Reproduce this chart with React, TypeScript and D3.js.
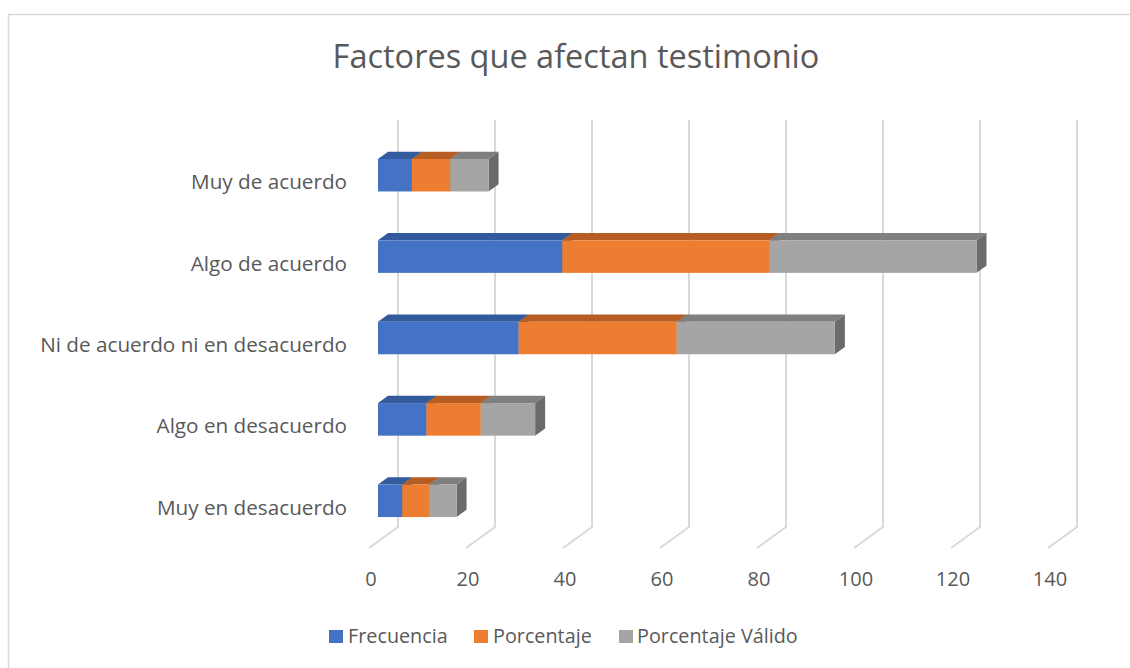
import React from "react";
import * as d3 from "d3";

const categories = [
  "Muy de acuerdo",
  "Algo de acuerdo",
  "Ni de acuerdo ni en desacuerdo",
  "Algo en desacuerdo",
  "Muy en desacuerdo",
];
const seriesNames = ["Frecuencia", "Porcentaje", "Porcentaje Válido"];
const frecuencia = [7, 38, 29, 10, 5];
const porcentaje = [7.9, 42.7, 32.6, 11.2, 5.6];
const porcentajeValido = [7.9, 42.7, 32.6, 11.2, 5.6];
const tickValues = [0, 20, 40, 60, 80, 100, 120, 140];

const frontColors = ["#4472C4", "#ED7D31", "#A5A5A5"];
const topColors = ["#335A9C", "#B55D22", "#7F7F7F"];
const sideColors = ["#2C4E88", "#A0521D", "#6B6B6B"];

const W = 1130;
const H = 668;
const FONT = "'Open Sans', Lato, sans-serif";
const TEXT = "#595959";

// 3D depth offsets
const DEPTH_DX = 29;
const DEPTH_DY = -21;
const BAR_FRONT = 0.31;
const BAR_BACK = 0.655;

export default function App() {
  const x = d3.scaleLinear().domain([0, 140]).range([369, 369 + 140 * 4.85]);
  const y = d3.scaleBand<string>().domain(categories).range([141, 548]).paddingInner(0.6).paddingOuter(0.3);
  const yc = d3.scaleBand<string>().domain(categories).range([141, 548]);
  const series = [frecuencia, porcentaje, porcentajeValido];
  const topY = 120;
  const bottomBack = 548 + DEPTH_DY;

  const bars: React.ReactNode[] = [];
  categories.forEach((c, i) => {
    let cum = 0;
    const y0f = (y(c) as number) + DEPTH_DY * BAR_FRONT;
    const y1f = y0f + y.bandwidth();
    const fdx = DEPTH_DX * BAR_FRONT;
    const bdx = DEPTH_DX * (BAR_BACK - BAR_FRONT);
    const bdy = DEPTH_DY * (BAR_BACK - BAR_FRONT);
    series.forEach((s, k) => {
      const xa = x(cum) + fdx;
      cum += s[i];
      const xb = x(cum) + fdx;
      const topPts = [
        [xa, y0f],
        [xa + bdx, y0f + bdy],
        [xb + bdx, y0f + bdy],
        [xb, y0f],
      ];
      const sidePts = [
        [xb, y0f],
        [xb + bdx, y0f + bdy],
        [xb + bdx, y1f + bdy],
        [xb, y1f],
      ];
      bars.push(
        <g key={`${i}-${k}`}>
          <polygon points={sidePts.map((p) => p.join(",")).join(" ")} fill={sideColors[k]} />
          <polygon points={topPts.map((p) => p.join(",")).join(" ")} fill={topColors[k]} />
          <rect x={xa} y={y0f} width={xb - xa} height={y1f - y0f} fill={frontColors[k]} />
        </g>
      );
    });
  });

  return (
    <svg
      width={W}
      height={H}
      style={{ position: "absolute", left: 0, top: 0, background: "#fff" }}
      fontFamily={FONT}
    >
      <rect x={8.5} y={14.5} width={1200} height={800} fill="#fff" stroke="#d9d9d9" strokeWidth={1.5} />
      <text x={576} y={68} textAnchor="middle" fontSize={32.5} fill={TEXT}>
        Factores que afectan testimonio
      </text>
      {tickValues.map((v) => (
        <g key={v}>
          <polyline
            points={`${x(v) + DEPTH_DX},${topY} ${x(v) + DEPTH_DX},${bottomBack} ${x(v)},548`}
            fill="none"
            stroke="#d9d9d9"
            strokeWidth={2}
          />
          <text x={x(v) + 2} y={586} textAnchor="middle" fontSize={20} fill={TEXT}>
            {v}
          </text>
        </g>
      ))}
      {bars}
      {categories.map((c) => (
        <text
          key={c}
          x={347}
          y={(yc(c) as number) + yc.bandwidth() / 2 + 2}
          textAnchor="end"
          dominantBaseline="middle"
          fontSize={20.7}
          fill={TEXT}
        >
          {c}
        </text>
      ))}
      {seriesNames.map((n, k) => {
        const lx = [329, 474, 619][k];
        return (
          <g key={n}>
            <rect x={lx} y={630} width={14} height={13} fill={frontColors[k]} />
            <text x={[348, 493, 637][k]} y={643} fontSize={19.8} fill={TEXT}>
              {n}
            </text>
          </g>
        );
      })}
    </svg>
  );
}
